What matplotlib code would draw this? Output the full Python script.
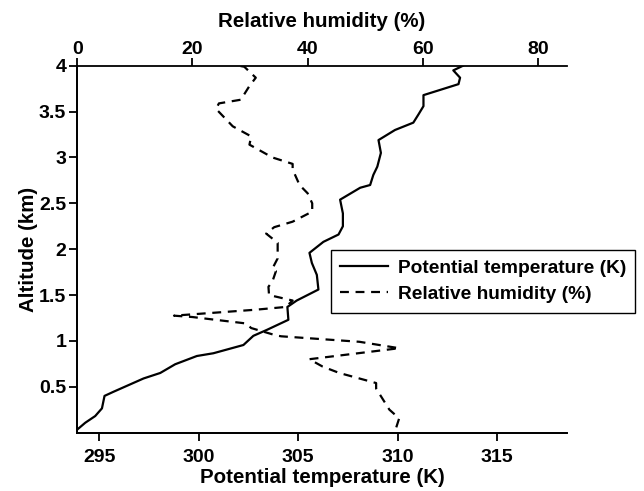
import matplotlib.pyplot as plt
from matplotlib.ticker import FormatStrFormatter

plt.rcParams['font.family'] = ['Liberation Sans', 'DejaVu Sans']
plt.rcParams['font.weight'] = 'bold'

# potential temperature profile (K) against altitude (km)
theta = [293.91, 294.30, 294.80, 295.14, 295.27, 295.72, 297.23, 298.07, 298.82,
         299.91, 300.74, 302.25, 302.75, 303.43, 304.51, 304.46, 304.93, 306.02,
         305.94, 305.69, 305.57, 306.27, 307.03, 307.25, 307.25, 307.11, 308.12,
         308.62, 308.78, 308.98, 309.16, 309.04, 309.87, 310.79, 311.05, 311.30,
         311.30, 313.06, 313.14, 312.80, 313.28]
theta_alt = [0.035, 0.107, 0.18, 0.264, 0.40, 0.445, 0.59, 0.65, 0.745,
             0.835, 0.865, 0.955, 1.055, 1.12, 1.23, 1.37, 1.44, 1.56,
             1.72, 1.85, 1.96, 2.08, 2.16, 2.25, 2.39, 2.54, 2.67,
             2.70, 2.81, 2.90, 3.05, 3.19, 3.30, 3.38, 3.47, 3.56,
             3.68, 3.80, 3.87, 3.95, 4.00]

# relative humidity profile (%)
rh = [55.4, 55.9, 54.2, 53.3, 51.9, 51.9, 45.5, 42.6, 40.3, 55.9, 49.0,
      35.4, 34.5, 30.2, 29.3, 20.0, 16.8, 31.0, 36.2, 37.4, 33.3, 33.2,
      33.9, 34.5, 33.9, 34.8, 34.8, 32.8, 34.2, 37.4, 40.8, 40.8, 40.0,
      38.6, 37.4, 37.4, 33.9, 29.9, 30.2, 27.0, 24.1, 24.6, 28.4, 29.9,
      31.0, 29.0, 28.1]
rh_alt = [0.057, 0.155, 0.25, 0.34, 0.48, 0.54, 0.65, 0.72, 0.80, 0.92, 0.99,
          1.05, 1.06, 1.14, 1.19, 1.26, 1.275, 1.34, 1.37, 1.44, 1.50, 1.59,
          1.65, 1.76, 1.79, 1.90, 2.07, 2.17, 2.24, 2.30, 2.41, 2.50, 2.61,
          2.70, 2.87, 2.93, 3.00, 3.14, 3.23, 3.34, 3.53, 3.59, 3.63, 3.78,
          3.87, 3.99, 4.00]

fig = plt.figure(figsize=(6.44, 4.91), dpi=100)
ax = fig.add_axes([0.12, 0.119, 0.76, 0.747])
ax2 = ax.twiny()

l1, = ax.plot(theta, theta_alt, color='black', lw=1.6, label='Potential temperature (K)')
l2, = ax2.plot(rh, rh_alt, color='black', lw=1.6, dashes=(4, 3), label='Relative humidity (%)')

ax.set_xlim(293.9, 318.5)
ax.set_ylim(0, 4)
ax2.set_xlim(0, 85)

ax.set_xticks([295, 300, 305, 310, 315])
ax.set_yticks([0.5, 1, 1.5, 2, 2.5, 3, 3.5, 4])
ax.yaxis.set_major_formatter(FormatStrFormatter('%g'))
ax2.set_xticks([0, 20, 40, 60, 80])

for a in (ax, ax2):
    a.spines['right'].set_visible(False)
    for s in a.spines.values():
        s.set_linewidth(1.3)
    a.tick_params(labelsize=14, width=1.3, length=5.5)
ax.spines['top'].set_visible(False)
ax.tick_params(axis='x', pad=6)
ax.tick_params(axis='y', pad=2.5)
ax2.tick_params(axis='x', pad=0)

ax.set_xlabel('Potential temperature (K)', fontsize=14.8, fontweight='bold', labelpad=2)
ax.set_ylabel('Altitude (km)', fontsize=14.8, fontweight='bold', labelpad=1)
ax2.set_xlabel('Relative humidity (%)', fontsize=14.8, fontweight='bold', labelpad=10)

leg = ax.legend(handles=[l1, l2], loc='upper left', bbox_to_anchor=(0.518, 0.498),
                fontsize=13.8, fancybox=False, framealpha=1, edgecolor='black',
                handlelength=2.5, handletextpad=0.48, borderaxespad=0,
                labelspacing=0.45, borderpad=0.5)
leg.get_frame().set_linewidth(1.0)
for t in leg.get_texts():
    t.set_fontweight('bold')

fig.savefig('out.png', dpi=100)
